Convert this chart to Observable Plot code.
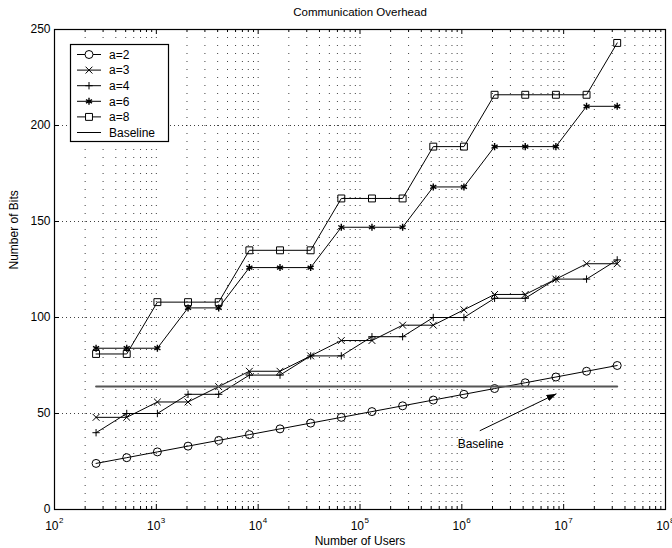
<!DOCTYPE html>
<html><head><meta charset="utf-8">
<script src="https://cdn.jsdelivr.net/npm/d3@7"></script>
<script src="https://cdn.jsdelivr.net/npm/@observablehq/plot@0.6"></script>
<style>body{margin:0;background:#fff;} #chart{width:672px;height:548px;}</style>
</head><body><div id="chart"></div>
<script>
// ---- data ----
const users = [256,512,1024,2048,4096,8192,16384,32768,65536,131072,262144,524288,1048576,2097152,4194304,8388608,16777216,33554432];
const bitsA2 = [24,27,30,33,36,39,42,45,48,51,54,57,60,63,66,69,72,75];
const bitsA3 = [48,48,56,56,64,72,72,80,88,88,96,96,104,112,112,120,128,128];
const bitsA4 = [40,50,50,60,60,70,70,80,80,90,90,100,100,110,110,120,120,130];
const bitsA6 = [84,84,84,105,105,126,126,126,147,147,147,168,168,189,189,189,210,210];
const bitsA8 = [81,81,108,108,108,135,135,135,162,162,162,189,189,216,216,216,216,243];
const baselineX = [256, 33554432];
const baselineY = [64, 64];
const seriesNames = ["a=2","a=3","a=4","a=6","a=8","Baseline"];
const annotText = "Baseline";
const annotX = [1.5e6, 8.5e6];
const annotY = [41, 60.3];
const annotTextX = 9.1e5, annotTextY = 34;
const xMajor = [1e2,1e3,1e4,1e5,1e6,1e7,1e8];
const xTickBase = "10";
const xTickExp = ["2","3","4","5","6","7","8"];
const yTicks = [0,50,100,150,200,250];

// ---- layout / style ----
const W = 672, H = 548, mt = 29, mb = 39, ml = 54, mr = 7;
const fw = W - ml - mr, fh = H - mt - mb;
const font = "'Liberation Sans', Arial, Helvetica, sans-serif";
const xMinor = [];
for (let k = 0; k < xMajor.length - 1; k++) for (let m = 2; m <= 9; m++) xMinor.push(xMajor[k] * m);
const xGrid = xMinor.concat(xMajor.slice(1, -1));

const series = [
  {name: "a=2", y: bitsA2, symbol: "circle", r: 4, sw: 1},
  {name: "a=3", y: bitsA3, symbol: "times", r: 3.2, sw: 1},
  {name: "a=4", y: bitsA4, symbol: "plus", r: 2.5, sw: 1},
  {name: "a=6", y: bitsA6, symbol: "asterisk", r: 3.3, sw: 1.4},
  {name: "a=8", y: bitsA8, symbol: "square", r: 3.9, sw: 1}
];

const marks = [
  Plot.ruleX(xGrid, {x: d => d, stroke: "#000", strokeOpacity: 0.75, strokeDasharray: "1,7"}),
  Plot.ruleY(yTicks.slice(1, -1), {y: d => d, stroke: "#000", strokeOpacity: 0.75, strokeDasharray: "1,3"}),
  // inside ticks
  Plot.ruleX(xMajor, {x: d => d, insetTop: fh - 5}),
  Plot.ruleX(xMajor, {x: d => d, insetBottom: fh - 5}),
  Plot.ruleX(xMinor, {x: d => d, insetTop: fh - 3}),
  Plot.ruleX(xMinor, {x: d => d, insetBottom: fh - 3}),
  Plot.ruleY(yTicks, {y: d => d, insetRight: fw - 5}),
  Plot.ruleY(yTicks, {y: d => d, insetLeft: fw - 5}),
  Plot.frame({stroke: "#000", strokeWidth: 1.2}),
  Plot.axisY({ticks: yTicks, tickSize: 0, tickPadding: 4, fontSize: 12, label: null}),
  Plot.text(xMajor, {x: d => d, frameAnchor: "bottom", dy: 17, dx: 4, text: () => xTickBase, textAnchor: "end", lineAnchor: "middle", fontSize: 12}),
  Plot.text(xMajor, {x: d => d, frameAnchor: "bottom", dy: 11, dx: 4.5, text: (d, i) => xTickExp[i], textAnchor: "start", lineAnchor: "middle", fontSize: 8}),
  Plot.text(["Communication Overhead"], {frameAnchor: "top", dy: -17, fontSize: 11.5, lineAnchor: "middle"}),
  Plot.text(["Number of Users"], {frameAnchor: "bottom", dy: 32, fontSize: 12, lineAnchor: "middle"}),
  Plot.text(["Number of Bits"], {frameAnchor: "left", dx: -40, rotate: -90, fontSize: 12, lineAnchor: "middle"})
];
for (const s of series) {
  marks.push(Plot.line(users, {x: d => d, y: (d, i) => s.y[i], stroke: "#000", strokeWidth: 1}));
  marks.push(Plot.dot(users, {x: d => d, y: (d, i) => s.y[i], symbol: s.symbol, r: s.r, stroke: "#000", fill: "none", strokeWidth: s.sw}));
}
marks.push(Plot.line(baselineX, {x: d => d, y: (d, i) => baselineY[i], stroke: "#555", strokeWidth: 2}));
marks.push(Plot.link([0], {x1: [annotX[0]], y1: [annotY[0]], x2: [annotX[1]], y2: [annotY[1]], stroke: "#000", strokeWidth: 1}));
marks.push(Plot.text([annotText], {x: [annotTextX], y: [annotTextY], textAnchor: "start", fontSize: 12}));

const chart = Plot.plot({
  width: W, height: H,
  marginTop: mt, marginBottom: mb, marginLeft: ml, marginRight: mr,
  style: {fontFamily: font, fontSize: "12px", background: "#fff", color: "#000"},
  x: {type: "log", domain: [1e2, 1e8], axis: null},
  y: {domain: [0, 250], axis: null},
  marks
});
document.getElementById("chart").appendChild(chart);

// arrowhead for the annotation
const svg = d3.select(chart);
const defs = svg.insert("defs", ":first-child");
defs.append("marker").attr("id", "ah").attr("viewBox", "0 0 10 7").attr("refX", 10).attr("refY", 3.5)
  .attr("markerWidth", 10).attr("markerHeight", 7).attr("markerUnits", "userSpaceOnUse").attr("orient", "auto")
  .append("path").attr("d", "M0,0L10,3.5L0,7Z").attr("fill", "#000");
svg.selectAll('g[aria-label="link"] path').attr("marker-end", "url(#ah)");

// legend
const lg = svg.append("g").attr("font-family", font).attr("font-size", 12).attr("text-anchor", "start");
lg.append("rect").attr("x", 70.5).attr("y", 44.5).attr("width", 98).attr("height", 97)
  .attr("fill", "#fff").attr("stroke", "#000").attr("stroke-width", 1.2);
const symMap = {circle: d3.symbolCircle, times: d3.symbolTimes, plus: d3.symbolPlus, asterisk: d3.symbolAsterisk, square: d3.symbolSquare};
seriesNames.forEach((name, i) => {
  const y = 54.5 + i * 15.6;
  const s = series[i];
  lg.append("line").attr("x1", 77).attr("x2", 101).attr("y1", y).attr("y2", y)
    .attr("stroke", "#000").attr("stroke-width", 1);
  if (s) {
    lg.append("path").attr("transform", `translate(89,${y})`)
      .attr("d", d3.symbol(symMap[s.symbol], Math.PI * s.r * s.r)())
      .attr("fill", "#fff").attr("stroke", "#000").attr("stroke-width", s.sw);
  }
  lg.append("text").attr("x", 109).attr("y", y).attr("dy", "0.35em").attr("text-anchor", "start").text(name);
});
</script>
</body></html>
